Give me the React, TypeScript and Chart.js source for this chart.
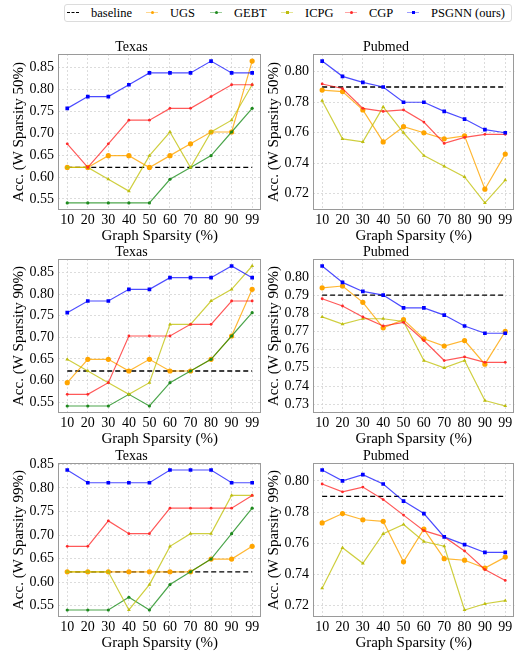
import React, { useEffect, useRef } from "react";
import { Chart, registerables } from "chart.js";

Chart.register(...registerables);

const FONT = "'Liberation Serif', 'Times New Roman', Times, serif";

// ---------------- data ----------------
const xLabels = ["10", "20", "30", "40", "50", "60", "70", "80", "90", "99"];
const seriesNames = ["baseline", "UGS", "GEBT", "ICPG", "CGP", "PSGNN (ours)"];

const texasTicks = [0.55, 0.6, 0.65, 0.7, 0.75, 0.8, 0.85];
const pubmed50Ticks = [0.72, 0.74, 0.76, 0.78, 0.8];
const pubmed90Ticks = [0.73, 0.74, 0.75, 0.76, 0.77, 0.78, 0.79, 0.8];
const pubmed99Ticks = [0.72, 0.74, 0.76, 0.78, 0.8];

const texasBaseline = 0.622;
const pubmedBaseline = 0.79;

// Texas, W sparsity 50%
const texas50UGS = [0.622, 0.622, 0.649, 0.649, 0.622, 0.649, 0.676, 0.703, 0.703, 0.865];
const texas50GEBT = [0.541, 0.541, 0.541, 0.541, 0.541, 0.595, 0.622, 0.649, 0.703, 0.757];
const texas50ICPG = [0.622, 0.622, 0.595, 0.568, 0.649, 0.703, 0.622, 0.703, 0.73, 0.811];
const texas50CGP = [0.676, 0.622, 0.676, 0.73, 0.73, 0.757, 0.757, 0.784, 0.811, 0.811];
const texas50PSGNN = [0.757, 0.784, 0.784, 0.811, 0.838, 0.838, 0.838, 0.865, 0.838, 0.838];

// Pubmed, W sparsity 50%
const pubmed50UGS = [0.788, 0.787, 0.775, 0.754, 0.764, 0.76, 0.756, 0.758, 0.723, 0.746];
const pubmed50ICPG = [0.781, 0.756, 0.754, 0.777, 0.76, 0.745, 0.738, 0.731, 0.714, 0.729];
const pubmed50CGP = [0.792, 0.789, 0.776, 0.774, 0.775, 0.767, 0.753, 0.757, 0.759, 0.759];
const pubmed50PSGNN = [0.807, 0.797, 0.793, 0.79, 0.78, 0.78, 0.774, 0.769, 0.762, 0.76];

// Texas, W sparsity 90%
const texas90UGS = [0.595, 0.649, 0.649, 0.622, 0.649, 0.622, 0.622, 0.649, 0.703, 0.811];
const texas90GEBT = [0.541, 0.541, 0.541, 0.568, 0.541, 0.595, 0.622, 0.649, 0.703, 0.757];
const texas90ICPG = [0.649, 0.622, 0.595, 0.568, 0.595, 0.73, 0.73, 0.784, 0.811, 0.865];
const texas90CGP = [0.568, 0.568, 0.595, 0.703, 0.703, 0.703, 0.73, 0.73, 0.784, 0.784];
const texas90PSGNN = [0.757, 0.784, 0.784, 0.811, 0.811, 0.838, 0.838, 0.838, 0.865, 0.838];

// Pubmed, W sparsity 90%
const pubmed90UGS = [0.794, 0.795, 0.786, 0.772, 0.7765, 0.766, 0.762, 0.765, 0.752, 0.77];
const pubmed90ICPG = [0.778, 0.774, 0.777, 0.777, 0.7755, 0.754, 0.75, 0.754, 0.732, 0.729];
const pubmed90CGP = [0.788, 0.784, 0.778, 0.773, 0.775, 0.765, 0.754, 0.756, 0.753, 0.753];
const pubmed90PSGNN = [0.806, 0.797, 0.792, 0.79, 0.783, 0.783, 0.779, 0.773, 0.769, 0.769];

// Texas, W sparsity 99%
const texas99UGS = [0.622, 0.622, 0.622, 0.622, 0.622, 0.622, 0.622, 0.649, 0.649, 0.676];
const texas99GEBT = [0.541, 0.541, 0.541, 0.568, 0.541, 0.595, 0.622, 0.649, 0.703, 0.757];
const texas99ICPG = [0.622, 0.622, 0.622, 0.541, 0.595, 0.676, 0.703, 0.703, 0.784, 0.784];
const texas99CGP = [0.676, 0.676, 0.73, 0.703, 0.703, 0.757, 0.757, 0.757, 0.757, 0.784];
const texas99PSGNN = [0.838, 0.811, 0.811, 0.811, 0.811, 0.838, 0.838, 0.838, 0.811, 0.811];

// Pubmed, W sparsity 99%
const pubmed99UGS = [0.773, 0.779, 0.775, 0.774, 0.748, 0.769, 0.75, 0.749, 0.744, 0.751];
const pubmed99ICPG = [0.731, 0.757, 0.747, 0.766, 0.772, 0.761, 0.758, 0.717, 0.721, 0.723];
const pubmed99CGP = [0.798, 0.793, 0.796, 0.788, 0.778, 0.768, 0.764, 0.755, 0.743, 0.736];
const pubmed99PSGNN = [0.807, 0.8, 0.804, 0.798, 0.787, 0.779, 0.764, 0.759, 0.754, 0.754];

// ---------------- styles ----------------
type Sty = { line: string; point: string; shape: string; r: number; dash?: number[]; order: number; width: number };
const STY: Sty[] = [
  { line: "#000000", point: "#000000", shape: "circle", r: 0, dash: [5, 3], order: 6, width: 1.3 },
  { line: "rgba(255,165,0,0.8)", point: "#ffa500", shape: "circle", r: 2.6, order: 5, width: 1.2 },
  { line: "rgba(0,128,0,0.7)", point: "#1f8a1f", shape: "circle", r: 1.6, order: 4, width: 1.2 },
  { line: "rgba(191,191,0,0.75)", point: "#bdbd10", shape: "triangle", r: 2.2, order: 3, width: 1.2 },
  { line: "rgba(255,0,0,0.65)", point: "#ff2a2a", shape: "circle", r: 1.4, order: 2, width: 1.2 },
  { line: "rgba(0,0,255,0.7)", point: "#0000ff", shape: "rect", r: 2.6, order: 1, width: 1.2 },
];

type PanelCfg = {
  title: string;
  yLabel: string;
  ticks: number[];
  base: number;
  series: (number[] | null)[]; // UGS, GEBT, ICPG, CGP, PSGNN
  left: number;
  top: number;
  width: number;
  height: number;
  padRight: number;
};

const LEFT_COL = { left: 0, width: 264, padRight: 1 };
const RIGHT_COL = { left: 255, width: 262, padRight: 0 };

const panels: PanelCfg[] = [
  { title: "Texas", yLabel: "Acc. (W Sparsity 50%)", ticks: texasTicks, base: texasBaseline,
    series: [texas50UGS, texas50GEBT, texas50ICPG, texas50CGP, texas50PSGNN], top: 34, height: 212, ...LEFT_COL },
  { title: "Pubmed", yLabel: "Acc. (W Sparsity 50%)", ticks: pubmed50Ticks, base: pubmedBaseline,
    series: [pubmed50UGS, null, pubmed50ICPG, pubmed50CGP, pubmed50PSGNN], top: 34, height: 212, ...RIGHT_COL },
  { title: "Texas", yLabel: "Acc. (W Sparsity 90%)", ticks: texasTicks, base: texasBaseline,
    series: [texas90UGS, texas90GEBT, texas90ICPG, texas90CGP, texas90PSGNN], top: 239, height: 210, ...LEFT_COL },
  { title: "Pubmed", yLabel: "Acc. (W Sparsity 90%)", ticks: pubmed90Ticks, base: pubmedBaseline,
    series: [pubmed90UGS, null, pubmed90ICPG, pubmed90CGP, pubmed90PSGNN], top: 239, height: 210, ...RIGHT_COL },
  { title: "Texas", yLabel: "Acc. (W Sparsity 99%)", ticks: texasTicks, base: texasBaseline,
    series: [texas99UGS, texas99GEBT, texas99ICPG, texas99CGP, texas99PSGNN], top: 443, height: 210, ...LEFT_COL },
  { title: "Pubmed", yLabel: "Acc. (W Sparsity 99%)", ticks: pubmed99Ticks, base: pubmedBaseline,
    series: [pubmed99UGS, null, pubmed99ICPG, pubmed99CGP, pubmed99PSGNN], top: 443, height: 210, ...RIGHT_COL },
];

const framePlugin = {
  id: "frame",
  afterDatasetsDraw(chart: any) {
    const { ctx, chartArea } = chart;
    const l = Math.round(chartArea.left) + 0.5;
    const t = Math.round(chartArea.top) + 0.5;
    const r = Math.round(chartArea.right) - 0.5;
    const b = Math.round(chartArea.bottom) - 0.5;
    ctx.save();
    ctx.strokeStyle = "#9a9a9a";
    ctx.lineWidth = 1;
    ctx.strokeRect(l, t, r - l, b - t);
    ctx.restore();
  },
};

function Panel({ cfg }: { cfg: PanelCfg }) {
  const ref = useRef<HTMLCanvasElement | null>(null);
  useEffect(() => {
    if (!ref.current) return;
    const baseVals = xLabels.map(() => cfg.base);
    const all: number[] = [...baseVals];
    cfg.series.forEach((s) => s && all.push(...s));
    const lo = Math.min(...all);
    const hi = Math.max(...all);
    const pad = (hi - lo) * 0.05;

    const datasets: any[] = [];
    const make = (idx: number, vals: number[]) => {
      const st = STY[idx];
      return {
        label: seriesNames[idx],
        data: vals.map((y, i) => ({ x: i, y })),
        borderColor: st.line,
        backgroundColor: st.point,
        pointBackgroundColor: st.point,
        pointBorderColor: st.point,
        pointBorderWidth: 0,
        pointStyle: st.shape,
        pointRadius: st.r,
        pointHoverRadius: st.r,
        borderWidth: st.width,
        borderDash: st.dash || [],
        order: st.order,
        tension: 0,
        fill: false,
      };
    };
    datasets.push(make(0, baseVals));
    cfg.series.forEach((s, k) => {
      if (s) datasets.push(make(k + 1, s));
    });

    const chart = new Chart(ref.current, {
      type: "line",
      data: { datasets },
      plugins: [framePlugin],
      options: {
        animation: false,
        responsive: false,
        maintainAspectRatio: false,
        layout: { padding: { left: 0, right: cfg.padRight, top: 0, bottom: 0 } },
        plugins: {
          legend: { display: false },
          tooltip: { enabled: false },
          title: {
            display: true,
            text: cfg.title,
            color: "#000",
            font: { family: FONT, size: 14, lineHeight: 1, weight: "normal" },
            padding: { top: 6, bottom: 0 },
          },
        },
        scales: {
          x: {
            type: "linear",
            min: -0.45,
            max: 9.45,
            afterBuildTicks: (s: any) => {
              s.ticks = xLabels.map((_, i) => ({ value: i }));
            },
            afterFit: (s: any) => {
              s.height = 36;
            },
            ticks: {
              callback: (v: any) => xLabels[v] ?? "",
              color: "#000",
              font: { family: FONT, size: 14 },
              padding: 2,
              maxRotation: 0,
              autoSkip: false,
            },
            grid: { color: "#d4d4d4", lineWidth: 0.8, drawTicks: false },
            border: { display: false, dash: [2, 2] },
            title: {
              display: true,
              text: "Graph Sparsity (%)",
              color: "#000",
              font: { family: FONT, size: 15 },
              padding: { top: 0, bottom: 1 },
            },
          },
          y: {
            type: "linear",
            min: lo - pad,
            max: hi + pad,
            afterBuildTicks: (s: any) => {
              s.ticks = cfg.ticks.map((v) => ({ value: v }));
            },
            afterFit: (s: any) => {
              s.width = 58;
            },
            ticks: {
              callback: (v: any) => Number(v).toFixed(2),
              color: "#000",
              font: { family: FONT, size: 14 },
              padding: 4,
            },
            grid: { color: "#d4d4d4", lineWidth: 0.8, drawTicks: false },
            border: { display: false, dash: [2, 2] },
            title: {
              display: true,
              text: cfg.yLabel,
              color: "#000",
              font: { family: FONT, size: 15 },
              padding: { top: 10, bottom: 0 },
            },
          },
        },
      } as any,
    });
    return () => chart.destroy();
  }, []);
  return (
    <canvas
      ref={ref}
      width={cfg.width}
      height={cfg.height}
      style={{ position: "absolute", left: cfg.left, top: cfg.top, width: cfg.width, height: cfg.height }}
    />
  );
}

const legendTextLeft = [26, 105, 169, 240, 304, 366];

function Legend() {
  return (
    <div
      style={{
        position: "absolute",
        left: 64,
        top: 4,
        width: 448,
        height: 18,
        boxSizing: "border-box",
        border: "1px solid #dcdcdc",
        borderRadius: 3,
        background: "#fff",
        fontFamily: FONT,
        fontSize: 12.5,
        color: "#000",
      }}
    >
      {seriesNames.map((name, i) => {
        const st = STY[i];
        const tl = legendTextLeft[i];
        return (
          <React.Fragment key={name}>
            <div
              style={{
                position: "absolute",
                left: tl - 24,
                top: 7,
                width: 12,
                height: 0,
                borderTop: i === 0 ? "1.3px dashed #000" : `1.5px solid ${st.line}`,
                opacity: i === 0 ? 1 : 0.55,
              }}
            />
            {i > 0 && (
              <div
                style={{
                  position: "absolute",
                  left: tl - 19.5,
                  top: 6,
                  width: 3,
                  height: 3,
                  borderRadius: st.shape === "circle" ? 2 : 0,
                  background: st.point,
                }}
              />
            )}
            <span style={{ position: "absolute", left: tl, top: 0, lineHeight: "16px", whiteSpace: "nowrap" }}>{name}</span>
          </React.Fragment>
        );
      })}
    </div>
  );
}

export default function App() {
  return (
    <div
      style={{
        position: "absolute",
        left: 0,
        top: 0,
        width: 517,
        height: 655,
        overflow: "hidden",
        background: "#fff",
      }}
    >
      <Legend />
      {panels.map((p, i) => (
        <Panel key={i} cfg={p} />
      ))}
    </div>
  );
}
